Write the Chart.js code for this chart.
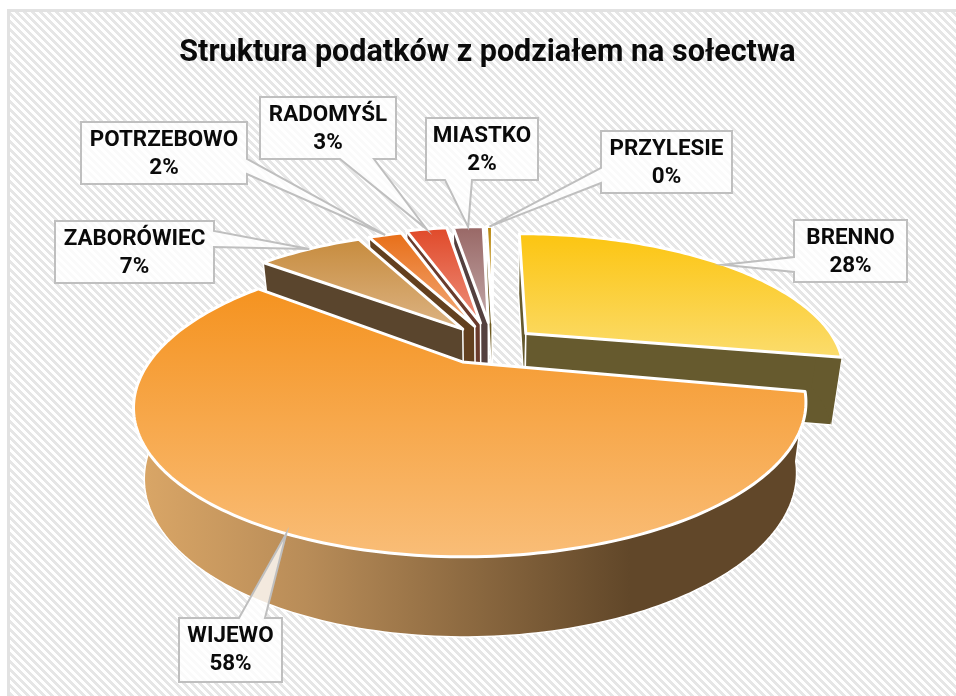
<!DOCTYPE html>
<html lang="pl">
<head>
<meta charset="utf-8">
<title>Struktura podatków</title>
<script src="https://cdn.jsdelivr.net/npm/chart.js@4/dist/chart.umd.min.js"></script>
<style>
  html, body { margin: 0; padding: 0; background: #fff; width: 956px; height: 696px; overflow: hidden; }
  #tlo {
    position: absolute; left: 7px; top: 9px; width: 980px; height: 720px;
    border: 3px solid #e2e2e2;
    background: repeating-linear-gradient(45deg, #fff 0, #fff 2.83px, #e6e6e6 2.83px, #e6e6e6 5.66px);
  }
  #wykres { position: absolute; left: 0; top: 0; }
</style>
</head>
<body>
<div id="tlo"></div>
<canvas id="wykres" width="956" height="696"></canvas>
<script>
const solectwa = ['BRENNO', 'WIJEWO', 'ZABORÓWIEC', 'POTRZEBOWO', 'RADOMYŚL', 'MIASTKO', 'PRZYLESIE'];
const udzialy = [27.9, 57.9, 6.9, 2.2, 2.7, 2.0, 0.4];

// colours of each slice: top of the gradient, bottom of the gradient, side wall
const koloryGora = ['#fcc511', '#f59320', '#c78c3e', '#e86f18', '#e04a2a', '#996866', '#b8860b'];
const koloryDol = ['#fbdc6c', '#f9bd77', '#dcb383', '#f2aa7c', '#ee8f7c', '#c2a8a8', '#e8d8a8'];
const koloryBok = ['#665a2e', '#614729', '#5a452d', '#63401f', '#6b3b2c', '#54403f', '#6e5a20'];

// how far each slice is pulled out, as a part of the radius
const wysuniecie = [0.14, 0.16, 0.16, 0.16, 0.18, 0.18, 0.18];
// small nudge of the wedge tip of the big slice
const korektaTip = { 1: [-0.028, 0.02] };

// label boxes: x, y, w, h, side the pointer leaves from, and where on that side
const dymki = [
  { x: 794, y: 220, w: 113, h: 62, side: 'left', a: 257, b: 272 },
  { x: 179, y: 618, w: 103, h: 64, side: 'top', a: 239, b: 265 },
  { x: 55, y: 221, w: 159, h: 62, side: 'right', a: 231, b: 247 },
  { x: 81, y: 122, w: 166, h: 62, side: 'right', a: 159, b: 174 },
  { x: 260, y: 97, w: 136, h: 62, side: 'bottom', a: 340, b: 374 },
  { x: 426, y: 118, w: 112, h: 62, side: 'bottom', a: 445, b: 472 },
  { x: 601, y: 131, w: 131, h: 62, side: 'left', a: 168, b: 183 }
];

// perspective of the pie plate (top face and bottom face)
const widok = { cx: 493, rx: 312, p: 0.256, gora: { cy: 345, ry: 130.7, k: 1 }, dol: { cy: 412, ry: 138.8, k: 0.97 } };

function rzut(u, v, plan) {
  const s = 1 / (1 + widok.p * v);
  return {
    x: widok.cx + plan.k * widok.rx * u * s,
    y: plan.cy - plan.ry * v * s
  };
}

// turns the library's arc element into plate coordinates
function geometria(arc, i) {
  const start = arc.startAngle + Math.PI / 2;
  const end = arc.endAngle + Math.PI / 2;
  const mid = (start + end) / 2;
  const e = wysuniecie[i];
  const ax = e * Math.sin(mid), ay = e * Math.cos(mid);
  const brzeg = [];
  const przod = [];
  const n = Math.max(2, Math.ceil((end - start) / 0.02));
  for (let k = 0; k <= n; k++) {
    const t = start + (end - start) * k / n;
    const p = [ax + Math.sin(t), ay + Math.cos(t)];
    brzeg.push(p);
    if (Math.cos(t) < 0.1) przod.push(p);
  }
  return { start, end, mid, ax, ay, brzeg, przod };
}

function sciezka(ctx, pts) {
  ctx.beginPath();
  pts.forEach((p, i) => i ? ctx.lineTo(p.x, p.y) : ctx.moveTo(p.x, p.y));
  ctx.closePath();
}

function rysujPlaster(ctx, g, i) {
  const gora = widok.gora, dol = widok.dol;
  const kor = korektaTip[i] || [0, 0];
  const aG = rzut(g.ax + kor[0], g.ay + kor[1], gora), aD = rzut(g.ax + kor[0], g.ay + kor[1], dol);
  const brzegG = g.brzeg.map(p => rzut(p[0], p[1], gora));
  const brzegD = g.brzeg.map(p => rzut(p[0], p[1], dol));

  ctx.lineJoin = 'round';
  ctx.strokeStyle = '#fff';

  // radial walls, only the ones turned towards the viewer
  ctx.fillStyle = koloryBok[i];
  ctx.lineWidth = 1.5;
  if (Math.sin(g.start) < 0.01) {
    sciezka(ctx, [aG, brzegG[0], brzegD[0], aD]);
    ctx.fill();
    ctx.stroke();
  }
  if (Math.sin(g.end) > -0.01) {
    sciezka(ctx, [aG, brzegG[brzegG.length - 1], brzegD[brzegD.length - 1], aD]);
    ctx.fill();
    ctx.stroke();
  }

  // outer wall, only the part that faces the viewer
  if (g.przod.length > 1) {
    const sciana = g.przod.map(p => rzut(p[0], p[1], gora))
      .concat(g.przod.map(p => rzut(p[0], p[1], dol)).reverse());
    if (i === 1) {
      const gr = ctx.createLinearGradient(134, 0, 630, 0);
      gr.addColorStop(0, '#dba767');
      gr.addColorStop(0.35, '#b88c58');
      gr.addColorStop(1, koloryBok[i]);
      ctx.fillStyle = gr;
    }
    sciezka(ctx, sciana);
    ctx.fill();
    if (i === 1) ctx.stroke();
  }

  // top face
  const ys = brzegG.map(p => p.y).concat(aG.y);
  const gr = ctx.createLinearGradient(0, Math.min(...ys), 0, Math.max(...ys));
  gr.addColorStop(0, koloryGora[i]);
  gr.addColorStop(1, koloryDol[i]);
  sciezka(ctx, [aG].concat(brzegG));
  ctx.fillStyle = gr;
  ctx.fill();
  ctx.lineWidth = 3;
  ctx.stroke();
}

function rysujDymek(ctx, d, tip, nazwa, tekst) {
  const r = d.x + d.w, b = d.y + d.h;
  const pts = [{ x: d.x, y: d.y }];
  if (d.side === 'top') pts.push({ x: d.a, y: d.y }, tip, { x: d.b, y: d.y });
  pts.push({ x: r, y: d.y });
  if (d.side === 'right') pts.push({ x: r, y: d.a }, tip, { x: r, y: d.b });
  pts.push({ x: r, y: b });
  if (d.side === 'bottom') pts.push({ x: d.b, y: b }, tip, { x: d.a, y: b });
  pts.push({ x: d.x, y: b });
  if (d.side === 'left') pts.push({ x: d.x, y: d.b }, tip, { x: d.x, y: d.a });

  sciezka(ctx, pts);
  ctx.fillStyle = 'rgba(255,255,255,0.8)';
  ctx.fill();
  ctx.lineJoin = 'miter';
  ctx.strokeStyle = '#bfbfbf';
  ctx.lineWidth = 2;
  ctx.stroke();

  ctx.fillStyle = '#0a0a0a';
  ctx.font = 'bold 22.4px Roboto';
  ctx.textAlign = 'center';
  ctx.textBaseline = 'middle';
  ctx.fillText(nazwa, d.x + d.w / 2, d.y + 18);
  ctx.fillText(tekst, d.x + d.w / 2, d.y + 46);
}

const pie3d = {
  id: 'pie3d',
  // the library's flat arcs are replaced by the 3D ones, angles still come from it
  beforeDatasetDraw(chart, args) {
    const ctx = chart.ctx;
    const arcs = chart.getDatasetMeta(args.index).data;
    const plastry = arcs.map((arc, i) => ({ i, g: geometria(arc, i) }));
    plastry.slice().sort((a, b) => Math.cos(b.g.mid) - Math.cos(a.g.mid))
      .forEach(p => rysujPlaster(ctx, p.g, p.i));

    const suma = udzialy.reduce((a, b) => a + b, 0);
    plastry.forEach(({ i, g }) => {
      const tip = rzut(g.ax + Math.sin(g.mid), g.ay + Math.cos(g.mid), widok.gora);
      rysujDymek(ctx, dymki[i], tip, solectwa[i], Math.round(udzialy[i] / suma * 100) + '%');
    });
    return false;
  }
};

new Chart(document.getElementById('wykres').getContext('2d'), {
  type: 'pie',
  data: {
    labels: solectwa,
    datasets: [{ data: udzialy, backgroundColor: koloryGora, borderColor: '#fff' }]
  },
  options: {
    responsive: false,
    animation: false,
    layout: { padding: { left: 19 } },
    plugins: {
      legend: { display: false },
      tooltip: { enabled: false },
      title: {
        display: true,
        text: 'Struktura podatków z podziałem na sołectwa',
        color: '#0a0a0a',
        font: { family: 'Roboto', size: 30.5, weight: 'bold' },
        padding: { top: 35, bottom: 10 }
      }
    }
  },
  plugins: [pie3d]
});
</script>
</body>
</html>
